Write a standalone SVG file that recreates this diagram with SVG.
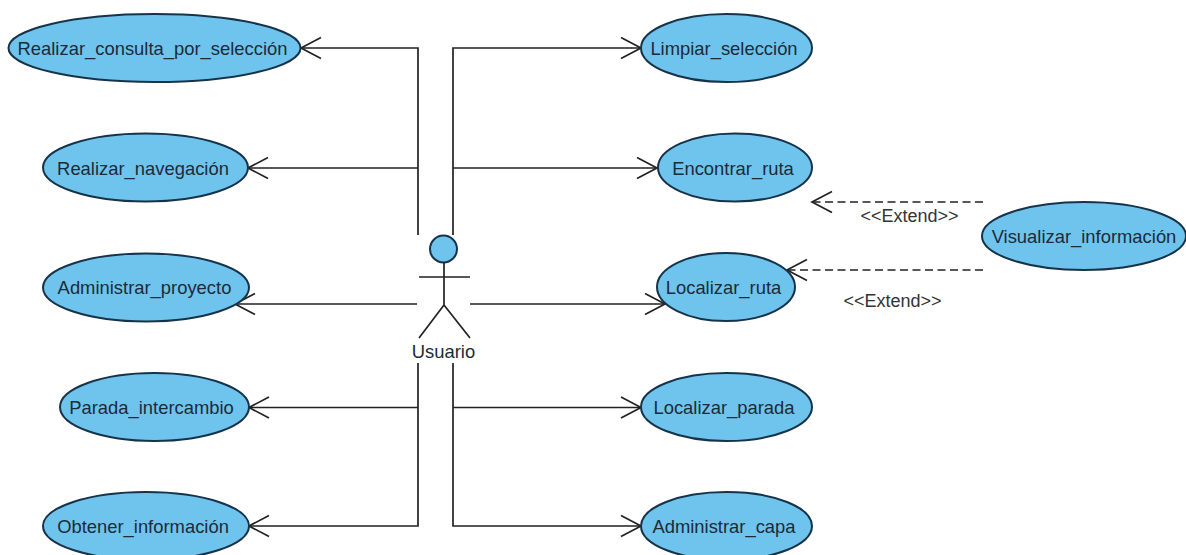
<svg xmlns="http://www.w3.org/2000/svg" width="1186" height="555" viewBox="0 0 1186 555">
<style>
.uc{fill:#6fc4ee;stroke:#16334a;stroke-width:2}
.t{font-family:"Liberation Sans",Arial,sans-serif;font-size:18.400px;fill:#1c2b38;text-anchor:middle}
.e{font-size:18px;fill:#333}
.l{fill:none;stroke:#222;stroke-width:1.7}
.d{fill:none;stroke:#222;stroke-width:1.7;stroke-dasharray:8 4.500}
</style>
<defs>
<marker id="open" markerUnits="userSpaceOnUse" markerWidth="24" markerHeight="26" refX="22" refY="13" orient="auto"><path d="M2 2.500L22 13L2 23.500" fill="none" stroke="#222" stroke-width="1.7"/></marker>
</defs>
<rect width="1186" height="555" fill="#fff"/>
<g id="connectors">
<path class="l" marker-end="url(#open)" d="M418 235V48H301"/>
<path class="l" marker-end="url(#open)" d="M418 168H248"/>
<path class="l" marker-end="url(#open)" d="M417 304H235"/>
<path class="l" marker-end="url(#open)" d="M418 407.500H249"/>
<path class="l" marker-end="url(#open)" d="M418 363V526H249"/>
<path class="l" marker-end="url(#open)" d="M453 235V48H641"/>
<path class="l" marker-end="url(#open)" d="M453 168H657"/>
<path class="l" marker-end="url(#open)" d="M470 304H665"/>
<path class="l" marker-end="url(#open)" d="M453 407.500H641"/>
<path class="l" marker-end="url(#open)" d="M453 363V526H641"/>
<path class="d" marker-end="url(#open)" d="M983 202H812"/>
<path class="d" marker-end="url(#open)" d="M983 270H787"/>
</g>
<g id="uc1"><ellipse class="uc" cx="154.500" cy="48" rx="146" ry="34"/><text class="t" x="152.500" y="54.500">Realizar_consulta_por_selección</text></g>
<g id="uc2"><ellipse class="uc" cx="145.500" cy="167.500" rx="102.500" ry="34"/><text class="t" x="143" y="174.500">Realizar_navegación</text></g>
<g id="uc3"><ellipse class="uc" cx="146" cy="287.500" rx="103" ry="34"/><text class="t" x="144.500" y="293.500">Administrar_proyecto</text></g>
<g id="uc4"><ellipse class="uc" cx="154.500" cy="407" rx="94.500" ry="34"/><text class="t" x="151.500" y="413.500">Parada_intercambio</text></g>
<g id="uc5"><ellipse class="uc" cx="146" cy="526" rx="103" ry="34"/><text class="t" x="143" y="532.500">Obtener_información</text></g>
<g id="uc6"><ellipse class="uc" cx="726.500" cy="48" rx="85.500" ry="34"/><text class="t" x="724" y="54.500">Limpiar_selección</text></g>
<g id="uc7"><ellipse class="uc" cx="735" cy="167.500" rx="77" ry="34"/><text class="t" x="733" y="174.500">Encontrar_ruta</text></g>
<g id="uc8"><ellipse class="uc" cx="726" cy="287" rx="69" ry="34"/><text class="t" x="723.500" y="293.500">Localizar_ruta</text></g>
<g id="uc9"><ellipse class="uc" cx="726.500" cy="407" rx="85.500" ry="34"/><text class="t" x="724" y="413.500">Localizar_parada</text></g>
<g id="uc10"><ellipse class="uc" cx="726.500" cy="526" rx="85.500" ry="34"/><text class="t" x="724" y="532.500">Administrar_capa</text></g>
<g id="uc11"><ellipse class="uc" cx="1084" cy="236" rx="102" ry="34"/><text class="t" x="1084" y="242.500">Visualizar_información</text></g>
<g id="actor">
<circle class="uc" cx="443.500" cy="249" r="13.500"/>
<path class="l" d="M444 262.500V305M419 277H470M444 305L419 338M444 305L470 338"/>
<text class="t" x="443.500" y="358">Usuario</text>
</g>
<text class="t e" x="909.500" y="222">&lt;&lt;Extend&gt;&gt;</text>
<text class="t e" x="892.500" y="307">&lt;&lt;Extend&gt;&gt;</text>
</svg>
